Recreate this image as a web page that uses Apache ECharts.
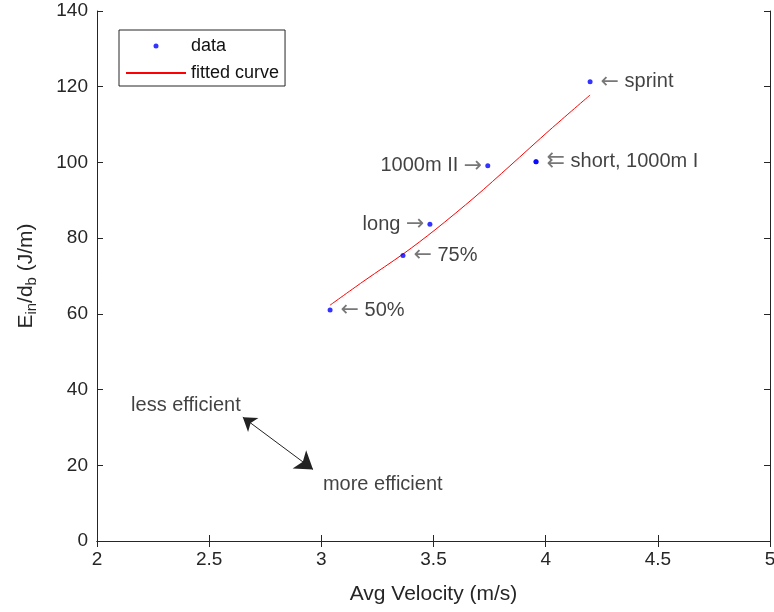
<!DOCTYPE html>
<html>
<head>
<meta charset="utf-8">
<script src="https://cdn.jsdelivr.net/npm/echarts@6/dist/echarts.min.js"></script>
<style>
  html, body { margin: 0; padding: 0; background: #fff; }
  #chart { width: 774px; height: 612px; }
</style>
</head>
<body>
<div id="chart"></div>
<script>
// measured points (velocity m/s, energy per distance J/m)
const pointNames = ['50%', '75%', 'long', '1000m II', 'short', '1000m I', 'sprint'];
const velocity = [3.039, 3.364, 3.484, 3.742, 3.957, 3.957, 4.198];
const energy = [61.0, 75.4, 83.7, 99.1, 100.2, 100.2, 121.3];

// fitted curve
const fitVelocity = [3.039, 3.195, 3.369, 3.507, 3.685, 3.841, 4.019, 4.198];
const fitEnergy = [62.3, 68.9, 76.0, 82.2, 90.9, 99.1, 108.6, 117.8];

// point annotations
const noteText = {
  '50%': '{a|\u2190} 50%',
  '75%': '{a|\u2190} 75%',
  'long': 'long {a|\u2192}',
  '1000m II': '1000m II {a|\u2192}',
  'short': '{a|\u21c7} short, 1000m I',
  'sprint': '{a|\u2190} sprint'
};
const noteLeft = ['long', '1000m II'];

// efficiency hint
const hintText = ['less efficient', 'more efficient'];
const hintPos = [[2.152, 35.7], [3.007, 14.8]];
const hintArrow = [[2.65, 32.7], [2.963, 18.9]];

const xTicks = { min: 2, max: 5, interval: 0.5 };
const yTicks = { min: 0, max: 140, interval: 20 };

const FONT = '"Liberation Sans", Arial, sans-serif';
const ARROW_FONT = '"DejaVu Sans", sans-serif';
const AXIS_COLOR = '#262626';

const chart = echarts.init(document.getElementById('chart'));

const pointData = velocity.map((v, i) => {
  const name = pointNames[i];
  const item = { name: name, value: [v, energy[i]] };
  if (noteText[name]) {
    const left = noteLeft.includes(name);
    item.label = {
      show: true,
      position: left ? 'left' : 'right',
      distance: left ? 3 : 8,
      formatter: noteText[name],
      fontSize: 20,
      fontFamily: FONT,
      color: '#111',
      rich: { a: { fontSize: 22, color: '#555', fontFamily: ARROW_FONT } }
    };
  }
  return item;
});

const axisBase = {
  type: 'value',
  axisLine: { show: true, lineStyle: { color: AXIS_COLOR, width: 1 } },
  axisTick: { show: true, inside: true, length: 6, lineStyle: { color: AXIS_COLOR } },
  splitLine: { show: false }
};

chart.setOption({
  animation: false,
  backgroundColor: '#fff',
  grid: { left: 97, right: 4, top: 11, bottom: 71, outerBoundsMode: 'none' },
  legend: {
    orient: 'vertical',
    left: 119,
    top: 30,
    data: [{ name: 'data' }, { name: 'fitted curve', itemStyle: { opacity: 0 } }],
    itemWidth: 60,
    itemHeight: 5,
    itemGap: 9,
    padding: [7, 6, 4, 6],
    borderColor: AXIS_COLOR,
    borderWidth: 1,
    backgroundColor: '#fff',
    textStyle: { fontSize: 18, fontFamily: FONT, color: '#111' }
  },
  xAxis: [
    Object.assign({}, axisBase, xTicks, {
      position: 'bottom',
      name: 'Avg Velocity (m/s)',
      nameLocation: 'middle',
      nameGap: 43,
      nameTextStyle: { fontSize: 21, fontFamily: FONT, color: '#262626' },
      axisLabel: { fontSize: 19, fontFamily: FONT, color: '#262626', margin: 9 }
    }),
    Object.assign({}, axisBase, xTicks, {
      position: 'top',
      axisLabel: { show: false }
    })
  ],
  yAxis: [
    Object.assign({}, axisBase, yTicks, {
      position: 'left',
      name: '{n|E}{s|in}{n|/d}{s|b}{n| (J/m)}',
      nameLocation: 'middle',
      nameGap: 58,
      nameTextStyle: {
        rich: {
          n: { fontSize: 21, fontFamily: FONT, color: '#262626' },
          s: { fontSize: 15, fontFamily: FONT, color: '#262626', padding: [10, 0, 0, 0] }
        }
      },
      axisLabel: { fontSize: 19, fontFamily: FONT, color: '#262626', margin: 9 }
    }),
    Object.assign({}, axisBase, yTicks, {
      position: 'right',
      axisLabel: { show: false }
    })
  ],
  series: [
    {
      name: 'fitted curve',
      type: 'line',
      data: fitVelocity.map((v, i) => [v, fitEnergy[i]]),
      smooth: 0.3,
      symbol: 'none',
      lineStyle: { color: '#ff0000', width: 1 },
      itemStyle: { color: '#ff0000' },
      z: 2
    },
    {
      name: 'data',
      type: 'scatter',
      data: pointData,
      symbol: 'circle',
      symbolSize: 5,
      itemStyle: { color: '#0000ff' },
      z: 3
    },
    {
      name: 'hint',
      type: 'scatter',
      symbolSize: 0,
      data: hintPos.map((p, i) => ({
        value: p,
        label: {
          show: true,
          position: 'inside',
          align: 'left',
          verticalAlign: 'middle',
          formatter: hintText[i],
          fontSize: 20,
          fontFamily: FONT,
          color: '#111'
        }
      })),
      silent: true
    },
    {
      name: 'hint arrow',
      type: 'lines',
      coordinateSystem: 'cartesian2d',
      data: [{ coords: hintArrow }],
      symbol: ['arrow', 'arrow'],
      symbolSize: [13, 17],
      lineStyle: { color: '#222', width: 1, opacity: 1 },
      silent: true
    }
  ]
});
</script>
</body>
</html>
